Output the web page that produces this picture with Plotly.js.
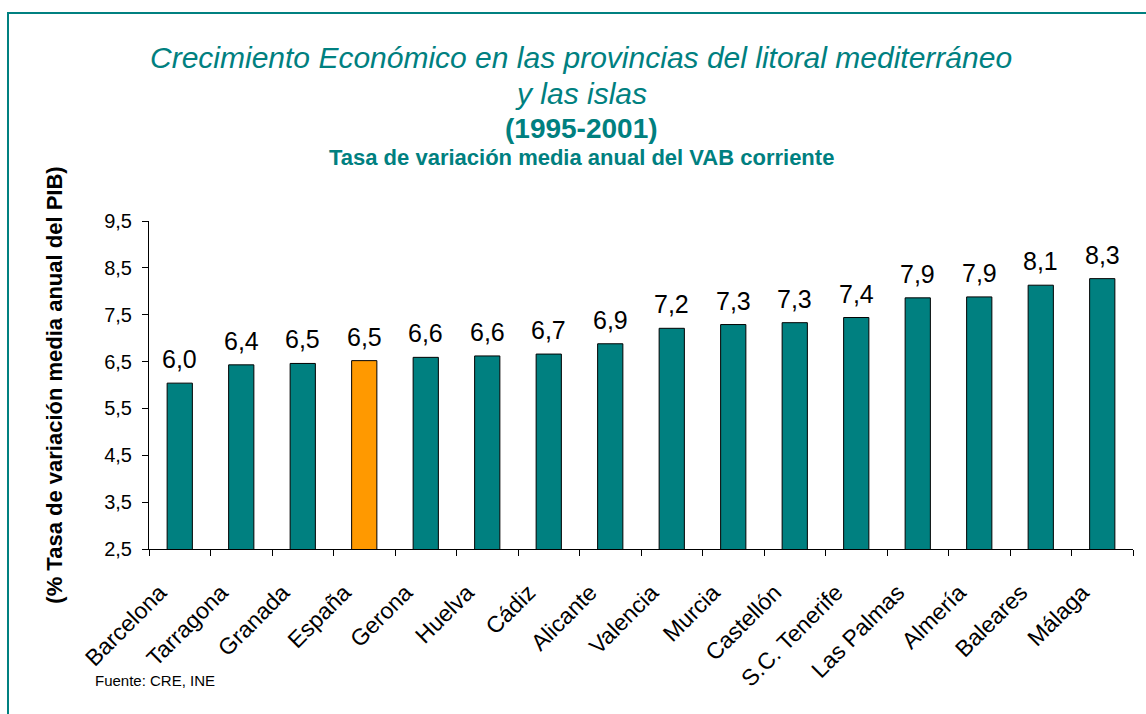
<!DOCTYPE html>
<html>
<head>
<meta charset="utf-8">
<script src="https://cdn.plot.ly/plotly-3.0.1.min.js"></script>
<style>
  html, body { margin:0; padding:0; background:#fff; overflow:hidden; }
  #chart { width:1146px; height:714px; }
  #frame { position:absolute; left:7px; top:12px; width:1160px; height:720px; border:2px solid #008080; pointer-events:none; }
</style>
</head>
<body>
<div id="chart"></div>
<div id="frame"></div>
<script>
const categories = ["Barcelona","Tarragona","Granada","España","Gerona","Huelva","Cádiz","Alicante","Valencia","Murcia","Castellón","S.C. Tenerife","Las Palmas","Almería","Baleares","Málaga"];
const values = [6.04, 6.43, 6.46, 6.52, 6.59, 6.62, 6.66, 6.88, 7.21, 7.29, 7.33, 7.44, 7.86, 7.88, 8.13, 8.27];
const highlight = "España";
const yTickVals = [2.5, 3.5, 4.5, 5.5, 6.5, 7.5, 8.5, 9.5];

const TEAL = "#008080", ORANGE = "#FF9900";
const FONT = "Arial, 'Liberation Sans', sans-serif";

const colors = categories.map(c => c === highlight ? ORANGE : TEAL);

const trace = {
  type: "bar",
  x: categories,
  y: values,
  base: 0,
  marker: { color: colors, line: { color: "#000", width: 1 } },
  hoverinfo: "x+y",
  cliponaxis: false
};

const labelAnns = categories.map((c, i) => ({
  x: c, y: values[i], xref: "x", yref: "y",
  text: values[i].toFixed(1).replace(".", ","),
  showarrow: false, yanchor: "bottom", yshift: 8,
  font: { family: FONT, size: 25, color: "#000" }
}));

const cx = (581 - 149) / 984;
const py = p => (549 - p) / 328;
const titleAnns = [
  { text: "<i>Crecimiento Económico en las provincias del litoral mediterráneo</i>", y: py(58), size: 30, color: TEAL },
  { text: "<i>y las islas</i>", y: py(93), size: 30, color: TEAL },
  { text: "<b>(1995-2001)</b>", y: py(128), size: 28, color: TEAL },
  { text: "<b>Tasa de variación media anual del VAB corriente</b>", y: py(158), size: 22, color: TEAL }
].map(a => ({
  text: a.text, x: cx, y: a.y, xref: "paper", yref: "paper",
  showarrow: false, xanchor: "center", yanchor: "middle",
  font: { family: FONT, size: a.size, color: a.color }
}));

const sourceAnn = {
  text: "Fuente: CRE, INE", x: (93 - 149) / 984, y: py(680), xref: "paper", yref: "paper",
  xanchor: "left", yanchor: "middle", showarrow: false,
  font: { family: FONT, size: 15, color: "#000" }
};

const layout = {
  width: 1146, height: 714,
  margin: { l: 149, r: 13, t: 221, b: 165 },
  paper_bgcolor: "rgba(0,0,0,0)",
  plot_bgcolor: "#fff",
  separators: ",.",
  showlegend: false,
  bargap: 0.59,
  font: { family: FONT, color: "#000" },
  xaxis: {
    type: "category",
    tickangle: -45,
    tickson: "boundaries",
    ticks: "outside", ticklen: 6, tickcolor: "#000",
    ticklabelstandoff: 20,
    ticklabelshift: -20,
    showline: true, linecolor: "#000", linewidth: 1,
    showgrid: false, zeroline: false,
    tickfont: { family: FONT, size: 23, color: "#000" }
  },
  yaxis: {
    range: [2.5, 9.5],
    tickvals: yTickVals,
    ticktext: yTickVals.map(v => v.toFixed(1).replace(".", ",")),
    ticks: "outside", ticklen: 6, tickcolor: "#000",
    ticklabelstandoff: 6,
    showline: true, linecolor: "#000", linewidth: 1,
    showgrid: false, zeroline: false,
    tickfont: { family: FONT, size: 20, color: "#000" },
    title: { text: "<b>(% Tasa de variación media anual del PIB)</b>", standoff: 35,
             font: { family: FONT, size: 22, color: "#000" } }
  },
  annotations: labelAnns.concat(titleAnns, [sourceAnn])
};

Plotly.newPlot("chart", [trace], layout, { displayModeBar: false, staticPlot: true });
</script>
</body>
</html>
